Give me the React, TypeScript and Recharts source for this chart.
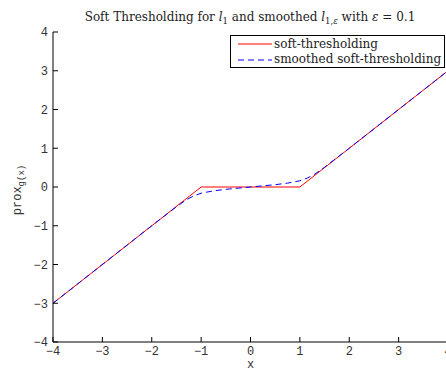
import React from 'react';
import { LineChart, Line, XAxis, YAxis, Legend } from 'recharts';

const xTicks = [-4, -3, -2, -1, 0, 1, 2, 3, 4];
const yTicks = [-4, -3, -2, -1, 0, 1, 2, 3, 4];

const softX = [-4, -1, 1, 4];
const softY = [-3, 0, 0, 3];

const smoothX = [-4, -2, -1.5, -1.3, -1.15, -1, -0.75, -0.5, -0.25, 0, 0.25, 0.5, 0.75, 1, 1.15, 1.3, 1.5, 2, 4];
const smoothY = [-3, -1, -0.51, -0.33, -0.23, -0.16, -0.1, -0.06, -0.03, 0, 0.03, 0.06, 0.1, 0.16, 0.23, 0.33, 0.51, 1, 3];

const softData = softX.map((x, i) => ({ x, y: softY[i] }));
const smoothData = smoothX.map((x, i) => ({ x, y: smoothY[i] }));

const MONO = '"Liberation Mono", "DejaVu Sans Mono", monospace';
const SERIF = '"DejaVu Serif", "Liberation Serif", serif';
const TICK_MARGIN = 5;
const TICK_LEN = 5;

const fmt = (v: number) => (v < 0 ? '\u2212' + Math.abs(v) : String(v));

const YTick = (props: any) => {
  const { x, y, payload } = props;
  const ax = x + TICK_MARGIN;
  return (
    <g>
      <line x1={ax} x2={ax + TICK_LEN} y1={y} y2={y} stroke="#000" strokeWidth={1} />
      <text x={x} y={y} dy="0.36em" textAnchor="end" fontFamily={MONO} fontSize={12} fill="#333">
        {fmt(payload.value)}
      </text>
    </g>
  );
};

const XTick = (props: any) => {
  const { x, y, payload } = props;
  const ay = y - TICK_MARGIN;
  return (
    <g>
      <line x1={x} x2={x} y1={ay} y2={ay - TICK_LEN} stroke="#000" strokeWidth={1} />
      <text x={x} y={y} dy="0.66em" textAnchor="middle" fontFamily={MONO} fontSize={12} fill="#333">
        {fmt(payload.value)}
      </text>
    </g>
  );
};

const LegendBox = () => (
  <div
    style={{
      border: '1px solid #000',
      background: '#fff',
      width: 215,
      height: 33,
      boxSizing: 'border-box',
      fontFamily: SERIF,
      fontSize: 12,
      lineHeight: '15px',
      color: '#222',
      paddingTop: 0,
    }}
  >
    <div style={{ display: 'flex', alignItems: 'center', height: 16 }}>
      <svg width={43} height={16}>
        <line x1={7} x2={41} y1={8} y2={8} stroke="#ff0000" strokeWidth={1} />
      </svg>
      <span>soft-thresholding</span>
    </div>
    <div style={{ display: 'flex', alignItems: 'center', height: 15 }}>
      <svg width={43} height={15}>
        <line x1={7} x2={41} y1={8} y2={8} stroke="#0000ff" strokeWidth={1} strokeDasharray="6 4" />
      </svg>
      <span>smoothed soft-thresholding</span>
    </div>
  </div>
);

export default function App() {
  return (
    <div style={{ position: 'absolute', left: 0, top: 0, width: 446, height: 371, overflow: 'hidden', background: '#fff' }}>
      <LineChart
        width={462}
        height={371}
        margin={{ top: 32, right: 14, left: 0, bottom: 0 }}
      >
        <XAxis
          dataKey="x"
          type="number"
          domain={[-4, 4]}
          ticks={xTicks}
          allowDuplicatedCategory={false}
          stroke="#000"
          tickLine={false}
          tickSize={0}
          tickMargin={TICK_MARGIN}
          tick={<XTick />}
          height={29}
          label={{ value: 'x', position: 'insideBottom', offset: 3.5, style: { fontFamily: MONO, fontSize: 12, fill: '#333' } }}
        />
        <YAxis
          dataKey="y"
          type="number"
          domain={[-4, 4]}
          ticks={yTicks}
          stroke="#000"
          tickLine={false}
          tickSize={0}
          tickMargin={TICK_MARGIN}
          tick={<YTick />}
          width={53}
        />
        <Legend
          layout="vertical"
          align="center"
          verticalAlign="middle"
          content={() => <LegendBox />}
          wrapperStyle={{ position: 'absolute', left: 230, top: 35, width: 'auto', height: 'auto' }}
        />
        <Line
          data={softData}
          dataKey="y"
          type="linear"
          stroke="#ff0000"
          strokeWidth={1}
          dot={false}
          isAnimationActive={false}
          name="soft-thresholding"
        />
        <Line
          data={smoothData}
          dataKey="y"
          type="linear"
          stroke="#0000ff"
          strokeWidth={1}
          strokeDasharray="6 4"
          dot={false}
          isAnimationActive={false}
          name="smoothed soft-thresholding"
        />
      </LineChart>
      <svg width={446} height={371} style={{ position: 'absolute', left: 0, top: 0, pointerEvents: 'none' }}>
        <text x={250} y={20.5} textAnchor="middle" fontFamily={SERIF} fontSize={12} fill="#222">
          Soft Thresholding for <tspan fontStyle="italic">l</tspan>
          <tspan fontSize={8.5} dy={3}>1</tspan>
          <tspan dy={-3}> and smoothed </tspan>
          <tspan fontStyle="italic">l</tspan>
          <tspan fontSize={8.5} dy={3}>1,</tspan>
          <tspan fontSize={8.5} fontStyle="italic">ε</tspan>
          <tspan dy={-3}> with </tspan>
          <tspan fontStyle="italic">ε</tspan>
          <tspan> = 0.1</tspan>
        </text>
        <text transform="translate(21,190) rotate(-90)" textAnchor="middle" fontFamily={MONO} fontSize={12} fill="#333">
          prox<tspan fontSize={9} dy={3}>g(x)</tspan>
        </text>
      </svg>
    </div>
  );
}
